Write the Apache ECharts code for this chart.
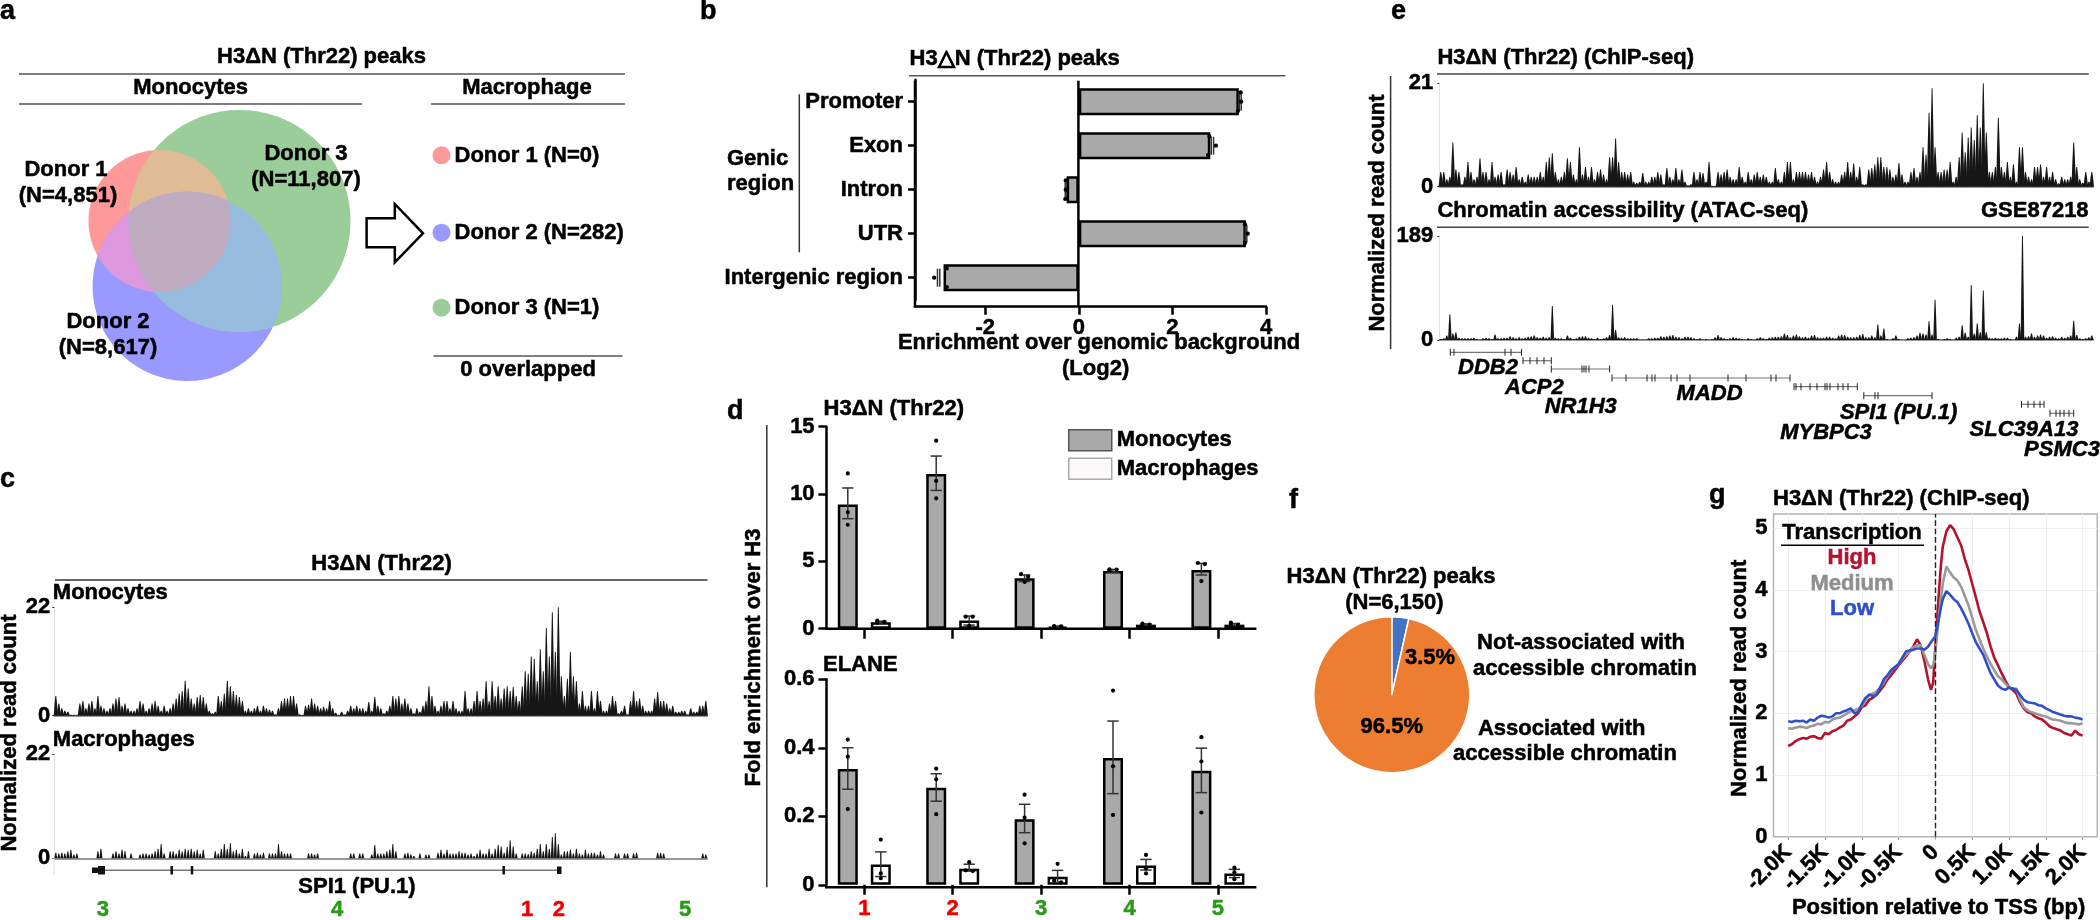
<!DOCTYPE html>
<html><head><meta charset="utf-8">
<style>html,body{margin:0;padding:0;background:#fff}#c{width:2100px;height:920px}</style>
<script src="https://cdn.jsdelivr.net/npm/echarts@6/dist/echarts.min.js"></script>
</head><body><div id="c"></div>
<script>
// ---------- panel b
const regionCats = ['Promoter','Exon','Intron','UTR','Intergenic region'];
const regionMean = [3.42,2.81,-0.26,3.57,-2.89];
const regionPts = [[3.46,3.47,3.40],[2.79,2.93,2.76],[-0.28,-0.28,-0.29],[3.55,3.61,3.55],[-2.82,-3.09,-2.82]];
const regionErr = [[3.43,3.47],[2.83,2.88],[-0.29,-0.27],[3.56,3.59],[-3.02,-2.97]];
const regionTicks = [-2,0,2,4];
// ---------- panel d
const siteCats = ['1','2','3','4','5'];
const siteColors = ['#f00000','#f00000','#2a9a18','#2a9a18','#2a9a18'];
const h3Mono = [9.23,11.49,3.74,4.28,4.36];
const h3Macro = [0.47,0.6,0.15,0.3,0.3];
const h3MonoErr = [[8.17,10.45],[10.27,12.82],[3.5,3.99],[4.18,4.4],[3.99,4.85]];
const h3MacroErr = [[0.42,0.55],[0.27,0.94],[0.1,0.2],[0.24,0.36],[0.22,0.38]];
const h3MonoPts = [[11.53,8.64,7.72],[13.96,10.97,9.68],[4.06,3.86,3.47],[4.4,4.38,4.33],[4.88,4.8,3.54]];
const h3MacroPts = [[0.6,0.5,0.45],[0.89,0.89,0.2],[0.2,0.17,0.12],[0.37,0.3,0.25],[0.45,0.3,0.25]];
const elMono = [0.338,0.283,0.191,0.37,0.333];
const elMacro = [0.059,0.047,0.023,0.056,0.033];
const elMonoErr = [[0.279,0.40],[0.244,0.324],[0.152,0.235],[0.266,0.478],[0.269,0.399]];
const elMacroErr = [[0.024,0.096],[0.04,0.06],[0.007,0.042],[0.043,0.074],[0.021,0.045]];
const elMonoPts = [[0.424,0.374,0.221],[0.339,0.308,0.206],[0.263,0.196,0.121],[0.567,0.346,0.204],[0.431,0.36,0.211]];
const elMacroPts = [[0.132,0.033,0.019],[0.066,0.042,0.04],[0.061,0.012,0.007],[0.087,0.048,0.033],[0.05,0.036,0.016]];
// ---------- panel c tracks (read count, one value per ~3 px)
const spi1Mono = [
4,2.5,1.5,1,.8,.2,.2,.2,2.5,3, 1.5,2.5,3,1.5,4,2,1.5,1,1.5,2.5, 3.5,3.8,2,2.5,1.5,1,1,1.5,3,2.5,
1,1.5,2.5,3,2,1,2,1,1.5,2.5, 3.5,4.5,5,7.1,5.5,3.5,2.5,3.8,4.2,3.8, 2.5,1,.5,.8,4,3,4.5,7.1,6,5,
4.2,3.8,3,1,1.5,1,1.5,2,1,2, 1.5,1.2,1,.3,1.5,3,3.5,3.5,4,4, 2.5,.3,.2,2,2.2,3.5,2.5,2,1.5,1.8,
1.5,3,1.5,.6,.2,.8,.3,1,2,1.5, 2,1.5,1.5,1,2.8,1,3.8,2,
1.5,.5,1,2,4,3.5,4,2.5,3.5,2.5, 1.5,.5,1.5,.8,2,3,6,4,2,1, 2,3,3,1.5,3,1.5,1,1,5,1.5,
1.5,3,5,3,3.5,7,3,7,4,6, 3.5,5.5,6,5,5.8,4,3,6,9,8.5, 12,11.5,7,13.5,9,17.8,12,21,13,22,
8,4,7.5,13,8,7,2.5,5,2,2, 5,1.5,5,3,1,1,2.5,4,3,.5, 1,2,.3,3,5,3,3.5,2,1,1,
1,3.5,4.8,3,3,2.5,1.5,2,.8,.8, 1,1,.3,1.5,.8,.8,2,2,3];
const spi1Macro = [
1.2,1,1.2,1,1.5,1.8,.8,1,0,0, 0,0,0,0,1.5,2,0,0,0,1, 1.5,1,1.8,1.5,0,1,0,0,.8,1,
1,.8,1,1.5,2,3,1,0,1.5,1.5, 1,1.8,1.5,2,1.8,2,1.5,1.8,1,1.8, 0,0,0,1.5,1,2,3,2,3.2,1.5,
1.8,1,2,.5,1.5,0,1,1.2,.8,1.2, 0,1,1,1,3,1.5,1,1,1,0, 0,0,0,0,1,1,.8,1,0,0,
0,0,0,0,0,0,0,0,1,1, 0,1,1,0,0,.8,2.8,1,
1,1,1.5,1.8,3,1.5,0,0,1,1.2, .8,.5,0,1,0,.8,.8,0,0,1.2, 1.8,1,1.8,1,1,1,1.5,1.2,1.2,.8,
1,.5,1,1.8,1,1,2,1,2,2.8, 2.5,1.2,2.4,3.8,2.5,1,0,1,1,.9, 1.5,1.2,2,3,1.5,3,2,4.5,5.3,3,
.8,1.5,1.5,1.8,1,2,1,.8,1.8,1, 1.2,1.2,.8,1.5,.8,0,0,0,1,1, 0,1,1,0,1,1.2,0,0,0,0,
0,0,1.2,1.2,1,0,0,0,0,0, 0,0,0,0,0,0,0,1,.8];
// ---------- panel e tracks
const chipTrack = [
3,3,1.5,2,9,3.5,3,.5,2,5, 3,1.5,2,5.8,3,3,1.5,5,2,2.5, 3,.5,3.5,3,2.5,4,1.5,2,1,2.5,
2,2,2,3,2,5,6,6.8,3,1.5, 2,3,5.8,5,2.5,1.5,8,2.5,4,2, 4,1.5,3,3.5,2.5,1.5,6,6,9.8,5,
3,3,2.5,3,1,.8,1,2.8,1,1, 2,2,3,2.5,.5,3.8,2,1.5,3.8,1.5, 3.5,1,.3,.5,3,1.5,3,2.8,1,5,
.2,.2,3,2.5,3,3.5,2,1.5,1.5,4, 2,1,3,1.5,2.5,3,2,2.5,
2,1,1,3.8,1.5,1,3,5,5,1.5, 3,3,3,3,2.5,3,2,1,2,3.5, 5,3,1.5,1,1,2.5,3,5,3,4.7,
2,4,.5,.5,3.5,3.8,4.5,6,6,4, 4,3.5,2,2.5,4.8,2.5,1,1,3,3.8, 2,3,8,6.5,15,20,8,3,3,3.5,
3.5,5,1,2,6,11,7,10,12,9.5, 14.5,12,21,11,3,3,4,14,4,3, 5,2,4.5,1,8,8,3,2,1.5,4,
4,4.5,2,4,2,3,1.5,.7,2,1.5, 1.5,2,9,4,1.5,.8,3,1,3];
const atacTrack = [
2,3,8,47,12,14,4,3,3,3, 3,4,2,1,3,4,3,2,10,3, 3,4,4,7,5,3,5,3,4,6,
7,8,5,4,6,4,5,62,4,3, 3,2,8,4,2,3,6,7,7,4, 3,2,4,2,3,5,9,64,18,5,
4,5,3,3,3,3,1,1,1,3, 3,4,4,7,6,7,8,9,6,5, 3,6,6,5,3,2,3,1,2,1,
2,5,9,5,3,2,3,5,4,3, 2,1,3,2,1,3,5,3,
2,4,5,6,6,7,12,9,5,8, 10,7,5,6,4,8,9,5,4,4, 6,6,4,3,8,10,9,6,5,5,
6,9,11,5,5,8,5,28,8,21, 2,.5,3,8,2,.5,.5,3,4,5, 8,13,12,10,34,10,73,2,.5,2,
3,2,.5,4,6,27,13,6,100,12, 30,14,90,14,4,3,4,3,3,4, 4,2,.5,6,30,189,6,7,12,6,
8,10,8,4,6,7,4,3,6,4, 6,8,35,9,3,2,3,5,8];
// ---------- panel f
const pieNames = ['Not-associated','Associated'];
const pieValues = [3.5,96.5];
// ---------- panel g
const tssPos = [-2000,-1950,-1900,-1850,-1800,-1750,-1700,-1650,-1600,-1550,-1500,-1450,-1400,-1350,-1300,-1250,-1200,-1150,-1100,-1050,-1000,-950,-900,-850,-800,-750,-700,-650,-600,-550,-500,-450,-400,-350,-300,
 -250,-200,-150,-100,-60,-30,0,25,50,75,100,
 150,200,250,300,350,400,450,500,550,600,650,700,750,800,850,900,950,1000,1050,1100,1150,1200,1250,1300,1350,1400,1450,1500,1550,1600,1650,1700,1750,1800,1850,1900,1950,2000];
const txHigh = [1.47,1.50,1.55,1.58,1.60,1.59,1.62,1.63,1.60,1.59, 1.68,1.66,1.71,1.73,1.77,1.80,1.88,1.90,1.95,2.0, 2.1,2.13,2.22,2.25,2.3,2.37,2.45,2.55,2.62,2.70, 2.78,2.85,2.92,3.0,3.08,
 3.2,3.1,2.85,2.55,2.38,2.5,3.1,3.55,4.0,4.4,4.7,
 4.95,5.05,4.98,4.85,4.72,4.5,4.32,4.1,3.88,3.65, 3.48,3.3,3.08,2.9,2.78,2.65,2.53,2.42,2.38,2.32, 2.18,2.08,2.02,2.0,1.95,1.92,1.9,1.85,1.79,1.76, 1.74,1.72,1.68,1.66,1.64,1.72,1.66,1.64];
const txMed = [1.76,1.75,1.77,1.78,1.78,1.76,1.79,1.8,1.83,1.82, 1.86,1.85,1.9,1.92,1.93,1.96,2.0,2.03,2.05,2.07, 2.12,2.2,2.3,2.32,2.35,2.42,2.5,2.6,2.7,2.74, 2.8,2.88,2.95,3.0,3.07,
 3.1,3.1,2.95,2.8,2.73,2.78,3.0,3.3,3.6,3.85,4.1,
 4.38,4.28,4.2,4.15,4.05,3.9,3.75,3.55,3.35,3.2, 3.05,2.92,2.8,2.7,2.6,2.55,2.48,2.42,2.4,2.4, 2.22,2.1,2.05,2.02,2.0,1.98,1.96,1.95,1.92,1.9, 1.89,1.88,1.86,1.84,1.84,1.83,1.82,1.84];
const txLow = [1.87,1.86,1.88,1.87,1.88,1.85,1.9,1.88,1.93,1.96, 1.95,1.93,1.95,2.0,2.0,2.03,2.05,2.08,2.0,2.02, 2.15,2.25,2.3,2.28,2.3,2.42,2.55,2.62,2.7,2.75, 2.8,2.9,3.0,3.02,3.03,
 3.05,3.05,3.03,3.08,3.15,3.2,3.25,3.4,3.55,3.72,3.85,
 3.98,3.92,3.85,3.8,3.7,3.58,3.45,3.3,3.15,3.05, 2.95,2.8,2.65,2.55,2.45,2.4,2.38,2.42,2.4,2.38, 2.3,2.22,2.18,2.17,2.16,2.13,2.12,2.08,2.05,2.02, 2.0,1.98,1.96,1.95,1.95,1.93,1.92,1.9];
const tssTickVals = [-2000,-1500,-1000,-500,0,500,1000,1500,2000];
const tssTickLabels = ['-2.0K','-1.5K','-1.0K','-0.5K','0','0.5K','1.0K','1.5K','2.0K'];
const readTicks = [0,1,2,3,4,5];
// ---------- panel a
const donors = ['Donor 1','Donor 2','Donor 3'];
const monoCounts = ['4,851','8,617','11,807'];
const macroCounts = ['0','282','1'];

const FF = '"Liberation Sans", Arial, sans-serif';
const FS = 22;
const G = [];
function T(x,y,text,o){o=o||{};const col=o.color||'#000';G.push({type:'text',x,y,z:100,rotation:o.rot||0,silent:true,style:{text,fill:col,stroke:col,lineWidth:.5,font:`${o.italic?'italic ':''}bold ${o.size||FS}px ${FF}`,textAlign:o.align||'center',textVerticalAlign:'middle',verticalAlign:'middle'}});}
function L(x1,y1,x2,y2,c,w,dash){G.push({type:'line',z:90,silent:true,shape:{x1,y1,x2,y2},style:{stroke:c||'#555',lineWidth:w||1.5,lineDash:dash||null}});}
function poly(points,fill,stroke,w){G.push({type:'polygon',z:1,silent:true,shape:{points},style:{fill,stroke:stroke||null,lineWidth:w||0}});}

// panel letters
[['a',0,12,'left'],['b',700,12,'left'],['c',0,480,'left'],['d',727,412,'left'],['e',1391,12,'left'],['f',1289,501,'left'],['g',1709,496,'left']].forEach(a=>T(a[1],a[2],a[0],{size:27,align:a[3]}));

// ---------- panel a
function circlePoly(cx,cy,r){const p=[];for(let i=0;i<240;i++){const t=i/240*2*Math.PI;p.push([cx+r*Math.cos(t),cy+r*Math.sin(t)]);}return p;}
function clip(sub,cl){let out=sub;for(let i=0;i<cl.length;i++){const a=cl[i],b=cl[(i+1)%cl.length];const inp=out;out=[];const inside=p=>(b[0]-a[0])*(p[1]-a[1])-(b[1]-a[1])*(p[0]-a[0])>=0;
 const inter=(p,q)=>{const d1=[q[0]-p[0],q[1]-p[1]],d2=[b[0]-a[0],b[1]-a[1]];const den=d1[0]*d2[1]-d1[1]*d2[0];const t=((a[0]-p[0])*d2[1]-(a[1]-p[1])*d2[0])/den;return [p[0]+t*d1[0],p[1]+t*d1[1]];};
 for(let j=0;j<inp.length;j++){const p=inp[j],q=inp[(j+1)%inp.length];if(inside(p)){out.push(p);if(!inside(q))out.push(inter(p,q));}else if(inside(q))out.push(inter(p,q));}}return out;}
const cR=circlePoly(159.5,221,71),cB=circlePoly(187.3,286.3,94.7),cGr=circlePoly(239.5,221,111);
poly(cR,'#fe9999');poly(cB,'#9999ff');poly(cGr,'#9acd9a');
poly(clip(cR,cGr),'#e0bc96');poly(clip(cR,cB),'#de98de');poly(clip(cGr,cB),'#98bce0');poly(clip(clip(cR,cGr),cB),'#c0acc0');
T(321.5,57.3,'H3ΔN (Thr22) peaks');L(19,74,625,74);
T(190.6,88.3,'Monocytes');L(19,104,362,104);
T(527,88.3,'Macrophage');L(431,104,625,104);
T(66,170,donors[0]);T(68,196,`(N=${monoCounts[0]})`);
T(306,153.7,donors[2]);T(306,180,`(N=${monoCounts[2]})`);
T(108,322.3,donors[1]);T(108,348.3,`(N=${monoCounts[1]})`);
poly([[366.6,218.3],[394.8,218.3],[394.8,204],[423,233.3],[394.8,262.3],[394.8,247.3],[366.6,247.3]],'#fff','#000',2.5);
[['#fe9999',155.3,0],['#9999ff',232.7,1],['#9acd9a',307.7,2]].forEach(d=>{G.push({type:'circle',z:2,silent:true,shape:{cx:441.5,cy:d[1],r:9},style:{fill:d[0]}});T(454.5,d[1]+.7,`${donors[d[2]]} (N=${macroCounts[d[2]]})`,{align:'left'});});
L(433.5,356,622.5,356);T(528,370,'0 overlapped');

// ---------- panel b
T(909.6,59.3,'H3△N (Thr22) peaks',{align:'left'});L(909,75.7,1285.4,75.7);
L(915,80.7,915,307.5,'#000',2.5);L(1078.4,80.7,1078.4,307,'#000',2.5);
L(799.3,94.3,799.3,252.3,'#333',1.5);
T(727,159,'Genic',{align:'left'});T(727,184.3,'region',{align:'left'});
T(1099,343.3,'Enrichment over genomic background');T(1095.6,369.3,'(Log2)');

// ---------- panel c
T(381.5,564,'H3ΔN (Thr22)');L(55,580,707.5,580,'#666',2);
T(52.8,592.7,'Monocytes',{align:'left'});T(52.8,740,'Macrophages',{align:'left'});
T(10,733,'Normalized read count',{rot:Math.PI/2});
L(54,858,54,875,'#e2e2e2',1);
L(92,870.3,561,870.3,'#777',1.5);
G.push({type:'rect',z:90,silent:true,shape:{x:92,y:867.5,width:6,height:5.5},style:{fill:'#111'}});
G.push({type:'rect',z:90,silent:true,shape:{x:98,y:866,width:7,height:8.5},style:{fill:'#111'}});
[171.7,192,503.7].forEach(x=>L(x,866,x,874.5,'#111',2.5));
G.push({type:'rect',z:90,silent:true,shape:{x:557,y:866.5,width:4.5,height:7.5},style:{fill:'#111'}});
T(357,887.3,'SPI1 (PU.1)');
[['3',102.8,2],['4',337,2],['1',527,0],['2',558.8,0],['5',685,2]].forEach(a=>T(a[1],910,a[0],{color:siteColors[a[2]]}));

// ---------- panel d
T(823.6,409,'H3ΔN (Thr22)',{align:'left'});T(823,665,'ELANE',{align:'left'});
T(754,657.5,'Fold enrichment over H3',{rot:Math.PI/2});
L(766.8,425,766.8,887.3,'#333',1.5);
L(825,628.7,1256.4,628.7,'#000',2.5);L(825,887.3,1256.4,887.3,'#000',2.5);

// ---------- panel e
T(1437.4,58.3,'H3ΔN (Thr22) (ChIP-seq)',{align:'left'});L(1437,74,2088.7,74,'#444',1.5);
T(1437.4,210.7,'Chromatin accessibility (ATAC-seq)',{align:'left'});T(2088.6,210.7,'GSE87218',{align:'right'});L(1437,227.3,2088.7,227.3,'#444',1.5);
T(1378,213,'Normalized read count',{rot:Math.PI/2});L(1390.6,76,1390.6,349,'#333',1.5);
[[352.3,[1450.3,1454,1505,1511,1521.5]],[360.7,[1523,1530,1537,1544,1551.3]],[369,[1551.3,1582,1584,1586,1589,1609.6]],
 [378,[1612,1626,1647,1652,1655,1671,1677,1690,1728,1746,1771,1776,1790]],[386.7,[1794,1796,1801,1810,1817,1825,1827,1830,1838,1843,1848,1857.3]],
 [395.7,[1863.8,1875,1878,1932]],[404.3,[2021.5,2028,2034,2040,2044]],[413.3,[2050,2056,2060,2064,2069,2073.7]]].forEach(g=>{
  const xs=g[1];L(xs[0],g[0],xs[xs.length-1],g[0],'#777',1.2);xs.forEach(x=>L(x,g[0]-3.5,x,g[0]+3.5,'#222',1));});
[['DDB2',1488,368.3],['ACP2',1534.4,388.3],['NR1H3',1580.7,407.3],['MADD',1709.6,394.3],['SPI1 (PU.1)',1898.6,413.3],['MYBPC3',1826,433.3],['SLC39A13',2024,430],['PSMC3',2062,450]].forEach(a=>T(a[1],a[2],a[0],{italic:true}));

// ---------- panel f
T(1391,576.7,'H3ΔN (Thr22) peaks');T(1394.4,602.7,'(N=6,150)');
T(1430,658,'3.5%');T(1391.8,726.7,'96.5%');
T(1581,643,'Not-associated with');T(1585,669,'accessible chromatin');
T(1561.7,728.7,'Associated with');T(1565,754.3,'accessible chromatin');

// ---------- panel g
T(1773,498.7,'H3ΔN (Thr22) (ChIP-seq)',{align:'left'});
T(1852,532.7,'Transcription');L(1781,545.3,1924,545.3,'#000',1.5);
T(1852,558.3,'High',{color:'#b5122f'});T(1852,584,'Medium',{color:'#8f8f8f'});T(1852,609.3,'Low',{color:'#2f50c8'});
T(1740,678.3,'Normalized read count',{rot:Math.PI/2});
T(1938.6,908,'Position relative to TSS (bp)');

// ---------- chart pieces
const font={fontFamily:FF,fontWeight:'bold',fontSize:FS,color:'#000',textBorderColor:'#000',textBorderWidth:.5};
const grids=[],xAxes=[],yAxes=[],series=[];
function addGrid(left,top,width,height,x,y,extra){grids.push(Object.assign({left,top,width,height},extra||{}));const i=grids.length-1;xAxes.push(Object.assign({gridIndex:i},x));yAxes.push(Object.assign({gridIndex:i},y));return i;}
function errRender(dxFn,horizontal,cap){return function(p,api){
  const a=api.value(0),lo=api.value(1),hi=api.value(2);
  const P=horizontal?api.coord([lo,a]):api.coord([a,lo]),Q=horizontal?api.coord([hi,a]):api.coord([a,hi]);
  const dx=dxFn||0;
  const ls={stroke:'#333',lineWidth:1.5};
  if(horizontal){return {type:'group',children:[
    {type:'line',shape:{x1:P[0],y1:P[1]-cap,x2:P[0],y2:P[1]+cap},style:ls},
    {type:'line',shape:{x1:Q[0],y1:Q[1]-cap,x2:Q[0],y2:Q[1]+cap},style:ls}]};}
  return {type:'group',children:[
    {type:'line',shape:{x1:P[0]+dx,y1:P[1],x2:Q[0]+dx,y2:Q[1]},style:ls},
    {type:'line',shape:{x1:P[0]+dx-cap,y1:P[1],x2:P[0]+dx+cap,y2:P[1]},style:ls},
    {type:'line',shape:{x1:Q[0]+dx-cap,y1:Q[1],x2:Q[0]+dx+cap,y2:Q[1]},style:ls}]};
};}
function swarmRows(pts,pxPerUnit){ // [cat,val,spread]
  const rows=[];pts.forEach((vals,c)=>{const close=vals.map((v,i)=>vals.some((w,j)=>j!==i&&Math.abs(v-w)*pxPerUnit<4.5));
    let n=0;vals.forEach((v,i)=>{let s=0;if(close[i]){s=(n%2?1:-1);n++;}rows.push([c,v,s]);});});return rows;}
function dotRender(dx,spread){return function(p,api){const c=api.coord([api.value(0),api.value(1)]);
  return {type:'circle',shape:{cx:c[0]+dx+api.value(2)*spread,cy:c[1],r:2.1},style:{fill:'#000'}};};}

// b
const gb=addGrid(915,79.7,351,220,
 {type:'value',min:-3.5,max:4,splitLine:{show:false},offset:7,axisLine:{show:true,onZero:false,lineStyle:{color:'#000',width:2.5}},axisTick:{show:true,length:8,customValues:regionTicks,lineStyle:{color:'#000',width:2.5}},axisLabel:Object.assign({customValues:regionTicks,margin:10},font)},
 {type:'category',inverse:true,data:regionCats,axisLine:{show:true,onZero:false,lineStyle:{color:'#000',width:2.5}},axisTick:{show:true,alignWithLabel:true,length:7,lineStyle:{color:'#000',width:2.5}},axisLabel:Object.assign({margin:12},font)});
series.push({type:'bar',xAxisIndex:gb,yAxisIndex:gb,data:regionMean,barWidth:27,itemStyle:{color:'#a9a9a9',borderColor:'#000',borderWidth:2.5}});
series.push({type:'custom',xAxisIndex:gb,yAxisIndex:gb,z:5,clip:false,encode:{x:1,y:0},data:regionErr.map((e,i)=>[i,e[0],e[1]]),renderItem:errRender(0,true,9)});
series.push({type:'custom',xAxisIndex:gb,yAxisIndex:gb,z:6,clip:false,encode:{x:0,y:1},data:regionPts.flatMap((v,c)=>v.map((x,i)=>[x,c,i-1])),
 renderItem:(p,api)=>{const c=api.coord([api.value(0),api.value(1)]);return {type:'circle',shape:{cx:c[0],cy:c[1]+api.value(2)*9.3,r:2.1},style:{fill:'#000'}};}});

// d
function barGroup(top,height,max,interval,mono,macro,monoErr,macroErr,monoPts,macroPts,showLabels,labelFmt){
 const g=addGrid(820.1,top,442,height,
  {type:'category',data:siteCats,axisLine:{show:false},axisTick:{show:true,alignWithLabel:true,length:10,lineStyle:{color:'#000',width:2.5}},
   axisLabel:showLabels?{margin:13,fontFamily:FF,fontWeight:'bold',fontSize:FS,formatter:(v,i)=>`{s${i}|${v}}`,rich:Object.fromEntries(siteColors.map((c,i)=>[`s${i}`,{color:c,fontFamily:FF,fontWeight:'bold',fontSize:FS,textBorderColor:c,textBorderWidth:.5}]))}:{show:false}},
  {type:'value',min:0,max,interval,offset:-6.3,splitLine:{show:false},axisLine:{show:true,onZero:false,lineStyle:{color:'#000',width:2.5}},axisTick:{show:true,length:8,lineStyle:{color:'#000',width:2.5}},axisLabel:Object.assign({margin:11.8,formatter:labelFmt},font)});
 series.push({type:'bar',name:'Monocytes',xAxisIndex:g,yAxisIndex:g,data:mono,barWidth:20,barGap:'65%',itemStyle:{color:'#a9a9a9',borderColor:'#000',borderWidth:2.5}});
 series.push({type:'bar',name:'Macrophages',xAxisIndex:g,yAxisIndex:g,data:macro,barWidth:20,barGap:'65%',itemStyle:{color:'#fff',borderColor:'#000',borderWidth:2.5}});
 const ppu=height/max;
 series.push({type:'custom',xAxisIndex:g,yAxisIndex:g,z:5,clip:false,encode:{x:0,y:1},data:monoErr.map((e,i)=>[i,e[0],e[1]]),renderItem:errRender(-16.5,false,5.7)});
 series.push({type:'custom',xAxisIndex:g,yAxisIndex:g,z:5,clip:false,encode:{x:0,y:1},data:macroErr.map((e,i)=>[i,e[0],e[1]]),renderItem:errRender(16.5,false,5.7)});
 series.push({type:'custom',xAxisIndex:g,yAxisIndex:g,z:6,clip:false,encode:{x:0,y:1},data:swarmRows(monoPts,ppu),renderItem:dotRender(-16.5,3.5)});
 series.push({type:'custom',xAxisIndex:g,yAxisIndex:g,z:6,clip:false,encode:{x:0,y:1},data:swarmRows(macroPts,ppu),renderItem:dotRender(16.5,3.5)});
}
barGroup(426.7,202,15,5,h3Mono,h3Macro,h3MonoErr,h3MacroErr,h3MonoPts,h3MacroPts,false);
barGroup(679.3,208,0.6,0.2,elMono,elMacro,elMonoErr,elMacroErr,elMonoPts,elMacroPts,true,v=>v===0?'0':v.toFixed(1));

// tracks: each value is drawn as a narrow spike
function track(left,top,width,height,vals,max,labelMargin,base){
 const g=addGrid(left,top,width,height,
  {type:'category',data:vals.map((_,i)=>i),axisLine:{show:true,lineStyle:{color:'#777',width:1.5}},axisTick:{show:false},axisLabel:{show:false}},
  {type:'value',min:0,max,interval:max,splitLine:{show:false},axisLine:{show:true,onZero:false,lineStyle:{color:'#e2e2e2',width:1}},axisTick:{show:true,length:2,lineStyle:{color:'#333'}},axisLabel:Object.assign({margin:labelMargin},font)});
 series.push({type:'custom',xAxisIndex:g,yAxisIndex:g,encode:{x:0,y:1},data:vals.map((v,i)=>[i,v]),clip:false,
  renderItem:(p,api)=>{const v=api.value(1);if(!v)return null;const a=api.coord([api.value(0),0]),b=api.coord([api.value(0),v]);const x=a[0],m=a[1]+(b[1]-a[1])*.55;
   return {type:'polygon',shape:{points:[[x-base,a[1]],[x-base*.62,m],[x-.45,b[1]],[x+.45,b[1]],[x+base*.62,m],[x+base,a[1]]]},style:{fill:'#161616'}};}});
}
track(54.3,607.3,653,108.4,spi1Mono,22,4,2.1);
track(54.3,754.3,653,104,spi1Macro,22,4,1.5);
track(1439.3,83.3,654,103.4,chipTrack,21,6,2.2);
track(1439.3,236,654,104,atacTrack,189,6,1.8);

// pie
series.push({type:'pie',center:[1391.8,694.7],radius:78,startAngle:90,clockwise:true,label:{show:false},labelLine:{show:false},silent:true,
 data:pieNames.map((n,i)=>({name:n,value:pieValues[i],itemStyle:{color:['#4472c4','#ed7d31'][i],borderColor:'#fff',borderWidth:1.5}}))});

// g
const gg=addGrid(1773.5,514,323.8,322.7,
 {type:'value',min:-2200,max:2200,splitLine:{show:false},axisLine:{show:false},axisTick:{show:true,length:3,customValues:tssTickVals,lineStyle:{color:'#999'}},
  axisLabel:Object.assign({customValues:tssTickVals,rotate:45,margin:12,formatter:v=>tssTickLabels[tssTickVals.indexOf(v)]},font)},
 {type:'value',min:0,max:5.23,splitLine:{show:false},axisLine:{show:false,onZero:false},axisTick:{show:false},axisLabel:Object.assign({customValues:readTicks,margin:6},font)},
 {show:true,borderColor:'#b4b4b4',borderWidth:1.5});
const gridMarks=tssTickVals.map(v=>({xAxis:v})).concat(readTicks.slice(1).map(v=>({yAxis:v})));
[[txHigh,'#b5122f'],[txMed,'#9a9a9a'],[txLow,'#3050c8']].forEach((s,i)=>{
 const o={type:'line',xAxisIndex:gg,yAxisIndex:gg,symbol:'none',showSymbol:false,data:tssPos.map((x,j)=>[x,s[0][j]]),lineStyle:{color:s[1],width:2.6},z:3+i,silent:true};
 if(i===0)o.markLine={silent:true,symbol:'none',label:{show:false},lineStyle:{color:'#eeeeee',width:1,type:'solid'},data:gridMarks,z:1};
 if(i===2)o.markLine={silent:true,symbol:'none',label:{show:false},lineStyle:{color:'#222',width:1.4,type:'dashed'},data:[{xAxis:0}]};
 series.push(o);
});

const chart=echarts.init(document.getElementById('c'),null,{renderer:'canvas'});
chart.setOption({animation:false,backgroundColor:'#fff',grid:grids,xAxis:xAxes,yAxis:yAxes,series,graphic:{elements:G},
 legend:{left:1063,top:424,orient:'vertical',icon:'rect',itemWidth:43,itemHeight:21,itemGap:6,selectedMode:false,
  textStyle:{fontFamily:FF,fontWeight:'bold',fontSize:FS,color:'#000',textBorderColor:'#000',textBorderWidth:.5},
  data:[{name:'Monocytes',itemStyle:{color:'#a9a9a9',borderColor:'#555',borderWidth:1.5}},{name:'Macrophages',itemStyle:{color:'#fbf9fa',borderColor:'#aaa',borderWidth:1.5}}]}});
</script></body></html>
